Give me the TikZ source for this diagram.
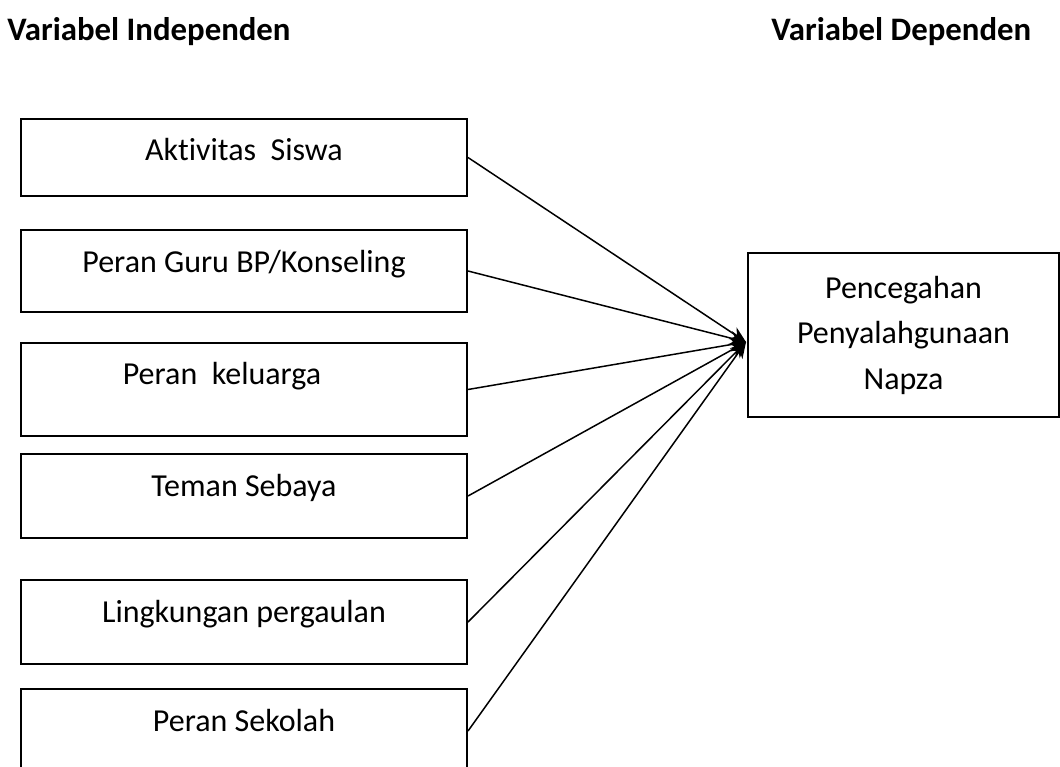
\documentclass[tikz,border=0pt]{standalone}
\usepackage{fontspec}
\setmainfont{Carlito}[Ligatures=NoCommon]
\usepackage{tikz}
\usetikzlibrary{arrows.meta,positioning}

\begin{document}
\begin{tikzpicture}[x=0.5pt, y=-0.5pt,
    box/.style={rectangle, draw=black, line width=1pt, minimum width=223pt,
                minimum height=42pt, inner sep=0pt,
                font=\fontsize{16}{19}\selectfont, text height=10pt, text depth=#1},
    box/.default=8pt,
    dep/.style={rectangle, draw=black, line width=1pt, minimum width=155.5pt,
                minimum height=82pt, inner sep=0pt, align=center,
                font=\fontsize{16}{22.75}\selectfont},
    ttl/.style={anchor=west, inner sep=0pt, font=\fontsize{16.4}{19}\selectfont\bfseries},
    arr/.style={-{Stealth[length=8pt, width=7pt]}, line width=0.75pt}
  ]
  \useasboundingbox (0,0) rectangle (1060,766);

  % judul
  \node[ttl] (tind) at (7,32)   {Variabel Independen};
  \node[ttl] (tdep) at (771,32) {Variabel Dependen};

  % variabel independen
  \node[box=7pt,  minimum height=38.5pt] (akt) at (244,157.5) {Aktivitas\ \ Siswa};
  \node[box=9pt,  minimum height=41pt]   (gur) at (244,271)   {Peran Guru BP/Konseling};
  \node[box=15.5pt, minimum height=46.5pt] (kel) at (244,389.5) {\hspace*{-22pt}Peran\ \ keluarga};
  \node[box=9.5pt, minimum height=42pt]  (tem) at (244,496)   {Teman Sebaya};
  \node[box=10pt, minimum height=42pt]   (lin) at (244,622)   {Lingkungan pergaulan};
  \node[box=9.5pt, minimum height=42pt]  (sek) at (244,731)   {Peran Sekolah};

  % variabel dependen
  \node[dep] (npz) at (903.5,335) {Pencegahan\\Penyalahgunaan\\Napza};
  \coordinate (tip) at (746,342);

  \draw[arr] (akt.east) -- (tip);
  \draw[arr] (gur.east) -- (tip);
  \draw[arr] (kel.east) -- (tip);
  \draw[arr] (tem.east) -- (tip);
  \draw[arr] (lin.east) -- (tip);
  \draw[arr] (sek.east) -- (tip);
\end{tikzpicture}
\end{document}
